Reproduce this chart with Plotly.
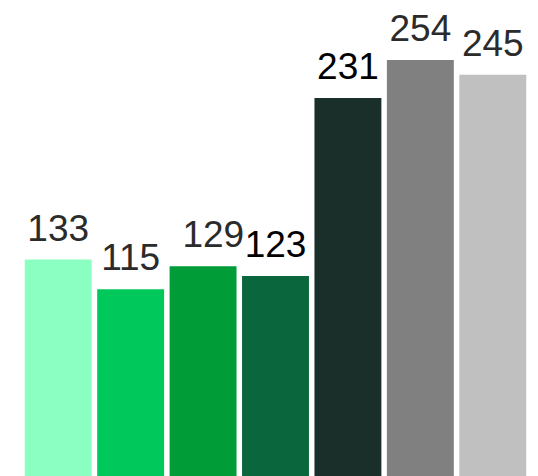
import plotly.graph_objects as go

categories = ['A', 'B', 'C', 'D', 'E', 'F', 'G']
values = [133, 115, 129, 123, 231, 254, 245]
labels = ['133', '115', '\u00a0\u00a0129', '123', '231', '254', '245']
bar_colors = ['#8affc1', '#00c85a', '#009c37', '#0a663c', '#1a2e2a', '#808080', '#c0c0c0']
label_colors = ['#2b2b2b', '#2b2b2b', '#2b2b2b', '#000000', '#000000', '#2b2b2b', '#2b2b2b']

fig = go.Figure()

fig.add_trace(go.Bar(
    x=categories,
    y=values,
    marker=dict(color=bar_colors, line=dict(width=0)),
    hoverinfo='none'
))

# value labels above the bars
fig.add_trace(go.Scatter(
    x=categories,
    y=values,
    mode='markers+text',
    text=labels,
    textposition='top center',
    textfont=dict(family='Liberation Sans, Arial', size=37, color=label_colors),
    marker=dict(size=14, color='rgba(0,0,0,0)'),
    cliponaxis=False,
    hoverinfo='none'
))

# page body adds 8px offset, so margins compensate for it
fig.update_layout(
    width=538,
    height=476,
    showlegend=False,
    bargap=0.076,
    plot_bgcolor='white',
    paper_bgcolor='white',
    margin={"l": 14, "r": 17, "t": 0, "b": 0, "pad": 0, "autoexpand": False},
    xaxis=dict(visible=False, automargin=False),
    yaxis=dict(visible=False, automargin=False, range=[-3, 285.5]),
)

fig.write_html("out.html")
